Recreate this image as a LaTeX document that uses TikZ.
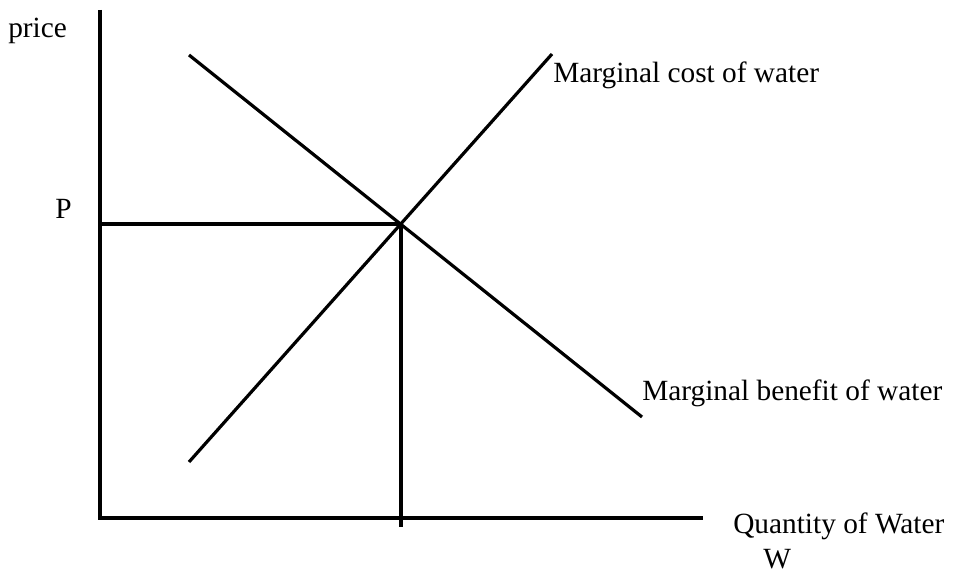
\documentclass[tikz,border=0pt]{standalone}
\usepackage{fontspec}
\setmainfont{Liberation Serif}
\usetikzlibrary{positioning}

\begin{document}
\begin{tikzpicture}[
  x=0.75pt, y=-0.75pt,
  axis/.style={line width=2.8pt, black},
  curve/.style={line width=2.4pt, black},
  lbl/.style={anchor=base west, inner sep=0pt, font=\fontsize{22}{26}\selectfont}
]
\useasboundingbox (0,0) rectangle (956,574);
% axes
\coordinate (origin) at (100,518);
\coordinate (ytop) at (100,10);
\coordinate (xend) at (703,518);
\draw[axis] (ytop) -- (origin) -- (xend);
% curves
\coordinate (mclow) at (189,462);
\coordinate (mchigh) at (552,54);
\coordinate (mbhigh) at (189,55);
\coordinate (mblow) at (642,417);
\draw[curve] (mclow) -- (mchigh);
\draw[curve] (mbhigh) -- (mblow);
% equilibrium
\coordinate (eq) at (401,224);
\coordinate (pmark) at (100,224);
\coordinate (wmark) at (401,527);
\draw[curve] (pmark) -- (eq) -- (wmark);
% labels
\node[lbl] (price) at (8,38) {price};
\node[lbl] (plabel) at (55,219) {P};
\node[lbl] (mclabel) at (553,83) {Marginal cost of water};
\node[lbl] (mblabel) at (642,400) {Marginal benefit of water};
\node[lbl] (qlabel) at (733,533) {Quantity of Water};
\node[lbl] (wlabel) at (763,568) {W};
\end{tikzpicture}
\end{document}
